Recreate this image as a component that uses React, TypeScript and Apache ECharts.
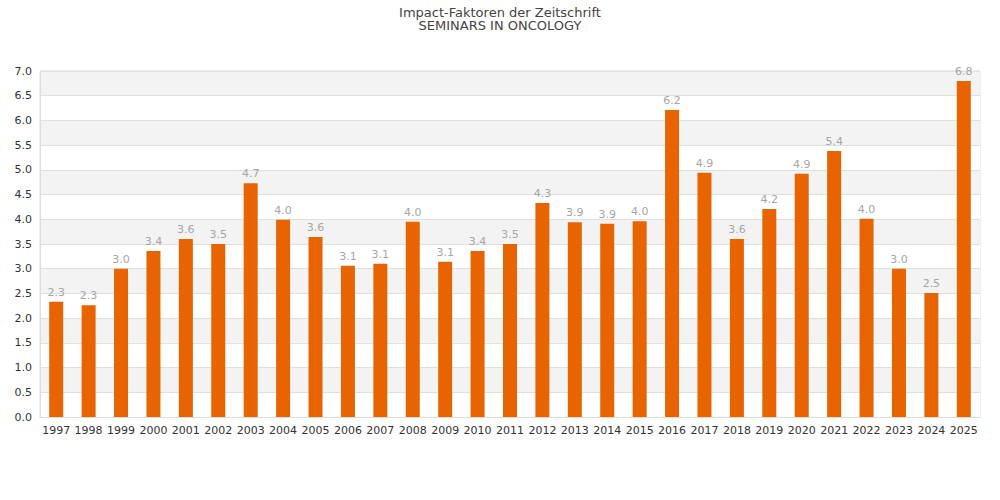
import React, { useEffect, useRef } from "react";
import * as echarts from "echarts";

const years = ["1997","1998","1999","2000","2001","2002","2003","2004","2005","2006","2007","2008","2009","2010","2011","2012","2013","2014","2015","2016","2017","2018","2019","2020","2021","2022","2023","2024","2025"];
const impactFactors = [2.33,2.26,3.0,3.36,3.6,3.5,4.73,3.99,3.64,3.06,3.1,3.95,3.14,3.36,3.5,4.33,3.94,3.91,3.96,6.21,4.94,3.6,4.21,4.92,5.38,4.01,3.0,2.51,6.8];
const titleLines = ["Impact-Faktoren der Zeitschrift", "SEMINARS IN ONCOLOGY"];

export default function App() {
  const ref = useRef<HTMLDivElement>(null);
  useEffect(() => {
    document.body.style.margin = "0";
    if (!ref.current) return;
    const chart = echarts.init(ref.current, undefined, { renderer: "svg" });
    const font = "DejaVu Sans";
    chart.setOption({
      animation: false,
      textStyle: { fontFamily: font },
      graphic: titleLines.map((t, i) => ({
        type: "text",
        x: 500,
        y: 12 + i * 13,
        style: {
          text: t,
          fill: "#444",
          font: `13px "${font}"`,
          align: "center",
          verticalAlign: "middle",
        },
      })),
      grid: { left: 40, right: 20, top: 71, bottom: 83, show: true, borderColor: "#dddddd", borderWidth: 1 },
      xAxis: {
        type: "category",
        data: years,
        axisLine: { lineStyle: { color: "#dddddd" } },
        axisTick: { show: false },
        axisLabel: { color: "#333", fontSize: 11, margin: 8, interval: 0, fontFamily: font },
      },
      yAxis: {
        type: "value",
        min: 0,
        max: 7,
        interval: 0.5,
        axisLine: { show: true, lineStyle: { color: "#dddddd" } },
        axisTick: { show: false },
        axisLabel: { color: "#333", fontSize: 11, margin: 8, formatter: (v: number) => v.toFixed(1), fontFamily: font },
        splitLine: { lineStyle: { color: "#e0e0e0" } },
        splitArea: { show: true, areaStyle: { color: ["#ffffff", "#f3f3f3"] } },
      },
      series: [
        {
          type: "bar",
          data: impactFactors,
          barWidth: 14,
          itemStyle: { color: "#e86400" },
          label: {
            show: true,
            position: "top",
            distance: 4,
            color: "#a6a6a6",
            fontSize: 11,
            fontFamily: font,
            formatter: (p: any) => Number(p.value).toFixed(1),
          },
        },
      ],
    });
    return () => chart.dispose();
  }, []);
  return <div ref={ref} style={{ width: 1000, height: 500 }} />;
}
